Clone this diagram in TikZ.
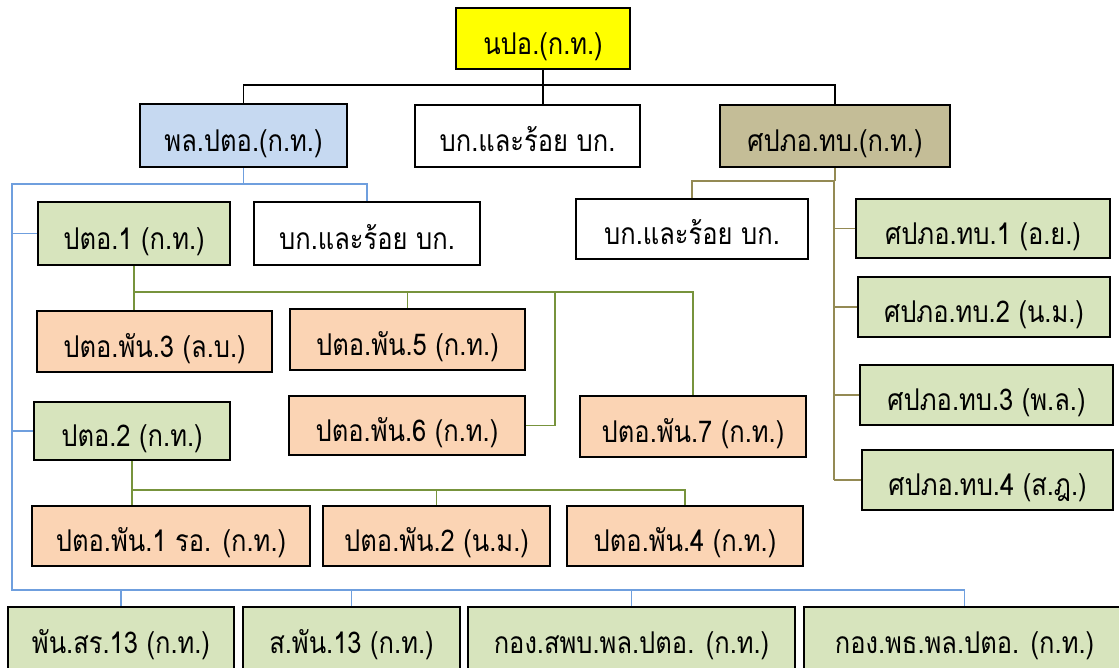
\documentclass[tikz,border=0pt]{standalone}
\usepackage{fontspec}
\newfontfamily\thaifont[Script=Thai,FakeStretch=0.85]{Loma}
\usepackage{tikz}
\definecolor{cyel}{HTML}{FFFF00}
\definecolor{cblu}{HTML}{C6D9F1}
\definecolor{ctan}{HTML}{C4BD97}
\definecolor{cgrn}{HTML}{D7E4BD}
\definecolor{corg}{HTML}{FBD4B4}
\definecolor{lblu}{HTML}{6F9FDE}
\definecolor{lgrn}{HTML}{77933C}
\definecolor{ltan}{HTML}{948A54}
\tikzset{
  unit/.style={draw, line width=2pt, inner sep=0pt, text height=31pt, text depth=0pt,
    font=\thaifont\fontsize{30}{34}\selectfont},
  blkline/.style={line width=1.8pt},
  bluline/.style={draw=lblu, line width=1.7pt},
  grnline/.style={draw=lgrn, line width=1.7pt},
  tanline/.style={draw=ltan, line width=1.7pt}
}
\begin{document}
\begin{tikzpicture}[x=1pt, y=-1pt]
		\useasboundingbox (0,0) rectangle (1119,667);
		
		%%%%% TOP LEVEL %%%%%
		\node[unit, fill=cyel, minimum width=174, minimum height=61] (top) at (543,38.5) {นปอ.(ก.ท.)};
		\node[unit, fill=cblu, minimum width=207, minimum height=63] (pl) at (243.5,135.5) {พล.ปตอ.(ก.ท.)};
		\node[unit, fill=white, minimum width=225, minimum height=62] (bk1) at (527.5,136) {บก.และร้อย บก.};
		\node[unit, fill=ctan, minimum width=230, minimum height=62] (spp) at (835,136) {ศปภอ.ทบ.(ก.ท.)};
		
		\draw[blkline] (top.south) -- (top.south |- bk1.north);
		\draw[blkline] (pl.north) -- ++(0,-18) -| (spp.north);
		
		%%%%% PL.PTO %%%%%
		\node[unit, fill=cgrn, minimum width=192, minimum height=63] (p1) at (134,233.5) {ปตอ.1 (ก.ท.)};
		\node[unit, fill=white, minimum width=226, minimum height=63] (bk2) at (367,233.5) {บก.และร้อย บก.};
		\node[unit, fill=cgrn, minimum width=196, minimum height=58] (p2) at (132,431) {ปตอ.2 (ก.ท.)};
		
		\node[unit, fill=corg, minimum width=235, minimum height=61] (pan3) at (154.5,341.5) {ปตอ.พัน.3 (ล.บ.)};
		\node[unit, fill=corg, minimum width=235, minimum height=61] (pan5) at (407.5,339.5) {ปตอ.พัน.5 (ก.ท.)};
		\node[unit, fill=corg, minimum width=236, minimum height=59] (pan6) at (407,425.5) {ปตอ.พัน.6 (ก.ท.)};
		\node[unit, fill=corg, minimum width=226, minimum height=61] (pan7) at (693,426.5) {ปตอ.พัน.7 (ก.ท.)};
		
		\node[unit, fill=corg, minimum width=278, minimum height=60] (pan1) at (171,536) {ปตอ.พัน.1 รอ. (ก.ท.)};
		\node[unit, fill=corg, minimum width=227, minimum height=60] (pan2) at (436.5,536) {ปตอ.พัน.2 (น.ม.)};
		\node[unit, fill=corg, minimum width=236, minimum height=60] (pan4) at (685,536) {ปตอ.พัน.4 (ก.ท.)};
		
		\node[unit, fill=cgrn, minimum width=226, minimum height=62] (b1) at (121,638) {พัน.สร.13 (ก.ท.)};
		\node[unit, fill=cgrn, minimum width=217, minimum height=62] (b2) at (351.5,638) {ส.พัน.13 (ก.ท.)};
		\node[unit, fill=cgrn, minimum width=327, minimum height=62] (b3) at (631.5,638) {กอง.สพบ.พล.ปตอ. (ก.ท.)};
		\node[unit, fill=cgrn, minimum width=321, minimum height=62] (b4) at (964.5,638) {กอง.พธ.พล.ปตอ. (ก.ท.)};
		
		\coordinate (lb) at (12,184);
		\coordinate (lbb) at (12,590);
		\draw[bluline] (pl.south) -- (pl.south |- lb);
		\draw[bluline] (bk2.north) |- (lb) -- (lbb) -| (b4.north);
		\draw[bluline] (p1.west) -- (p1.west -| lb);
		\draw[bluline] (p2.west) -- (p2.west -| lb);
		\foreach \b in {b1,b2,b3}
			\draw[bluline] (\b.north) -- (\b.north |- lbb);
		
		\path (p1.south) ++(0,26) coordinate (g1);
		\draw[grnline] (p1.south) -- (p1.south |- pan3.north);
		\draw[grnline] (g1) -| (pan7.north);
		\draw[grnline] (pan5.north) -- (pan5.north |- g1);
		\draw[grnline] (pan6.east) -- ++(29,0) coordinate (g6) -- (g6 |- g1);
		
		\path (p2.south) ++(0,29) coordinate (g2);
		\draw[grnline] (p2.south) -- (p2.south |- pan1.north);
		\draw[grnline] (g2) -| (pan4.north);
		\draw[grnline] (pan2.north) -- (pan2.north |- g2);
		
		%%%%% SPPO %%%%%
		\node[unit, fill=white, minimum width=232, minimum height=60] (bk3) at (692,229) {บก.และร้อย บก.};
		\node[unit, fill=cgrn, minimum width=254, minimum height=59] (s1) at (983,228.5) {ศปภอ.ทบ.1 (อ.ย.)};
		\node[unit, fill=cgrn, minimum width=252, minimum height=60] (s2) at (984,307) {ศปภอ.ทบ.2 (น.ม.)};
		\node[unit, fill=cgrn, minimum width=253, minimum height=60] (s3) at (986.5,395) {ศปภอ.ทบ.3 (พ.ล.)};
		\node[unit, fill=cgrn, minimum width=251, minimum height=60] (s4) at (987.5,480) {ศปภอ.ทบ.4 (ส.ฎ.)};
		
		\coordinate (tr) at (834,181);
		\draw[tanline] (spp.south) -- (spp.south |- tr);
		\draw[tanline] (bk3.north) |- (tr) -- (tr |- s4.west);
		\foreach \s in {s1,s2,s3,s4}
			\draw[tanline] (\s.west) -- (\s.west -| tr);
		
\end{tikzpicture}
\end{document}
